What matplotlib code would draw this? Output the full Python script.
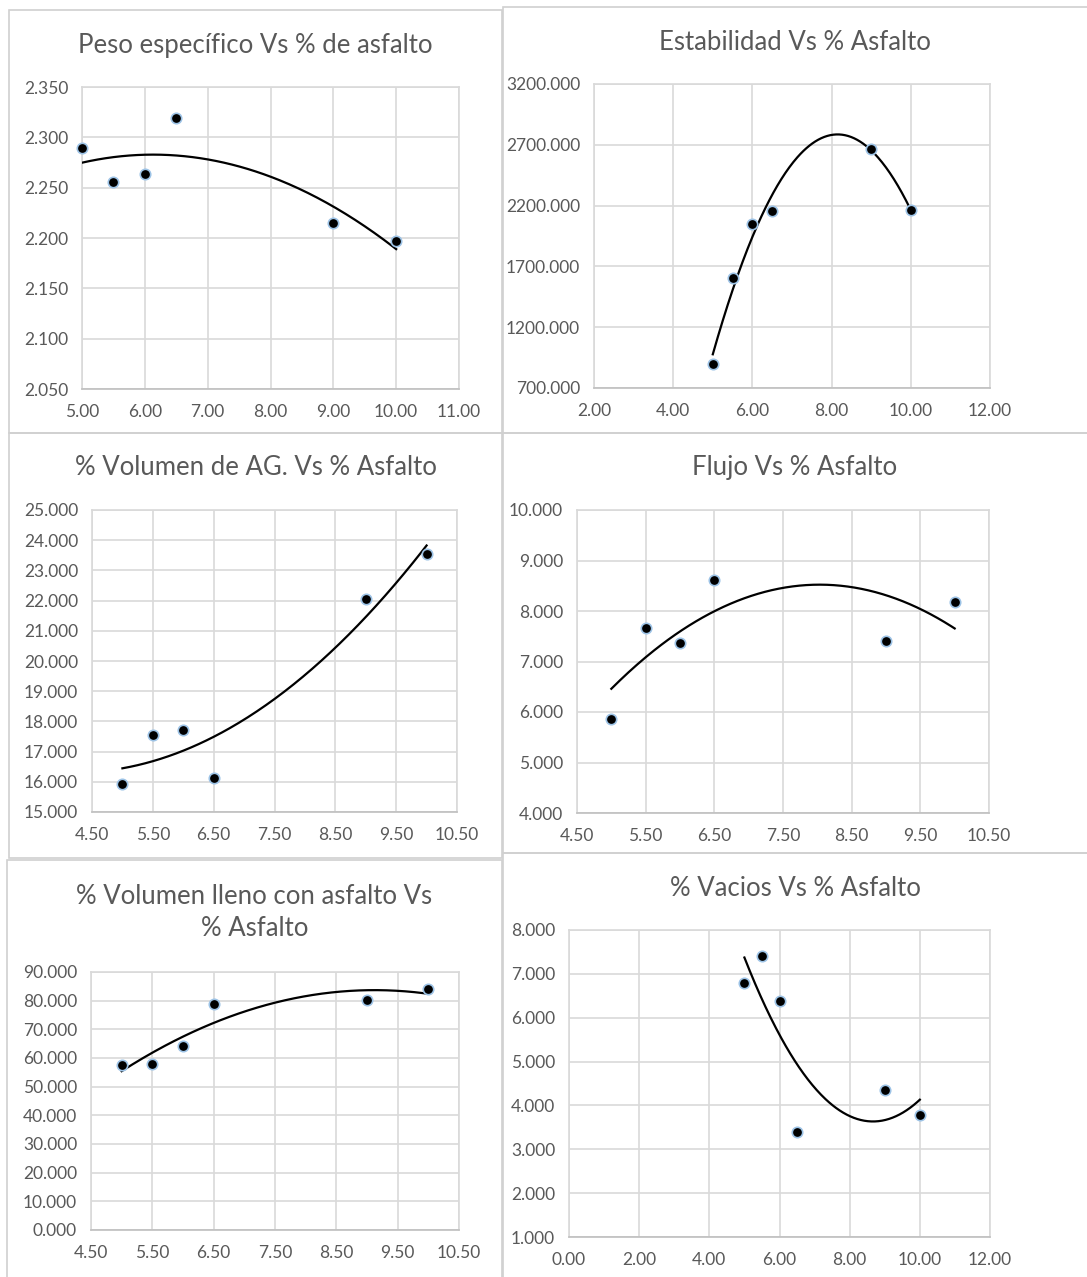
import numpy as np
import matplotlib.pyplot as plt
from matplotlib.patches import Rectangle
from matplotlib.ticker import FormatStrFormatter

plt.rcParams['font.family'] = ['Lato', 'DejaVu Sans']

W, H = 1087, 1277

asfalto = [5.0, 5.5, 6.0, 6.5, 9.0, 10.0]

peso_especifico = [2.289, 2.256, 2.264, 2.319, 2.215, 2.197]
estabilidad = [894, 1605, 2047, 2157, 2667, 2162]
vol_ag = [15.94, 17.55, 17.72, 16.14, 22.05, 23.53]
flujo = [5.87, 7.67, 7.36, 8.61, 7.41, 8.18]
vol_lleno = [57.5, 58.0, 64.1, 79.0, 80.3, 84.1]
vacios = [6.80, 7.41, 6.39, 3.40, 4.35, 3.79]

# title, y series, x limits/step, y limits/step, plot area box (px), frame box (px), title y (px)
charts = [
    ('Peso específico Vs % de asfalto', peso_especifico, (5, 11, 1), (2.05, 2.35, 0.05),
     (82, 87, 459, 389), (9, 10, 502, 433), 45),
    ('Estabilidad Vs % Asfalto', estabilidad, (2, 12, 2), (700, 3200, 500),
     (594, 84, 990, 388), (503, 7, 1092, 433), 42),
    ('% Volumen de AG. Vs % Asfalto', vol_ag, (4.5, 10.5, 1), (15, 25, 1),
     (92, 510, 457, 812), (9, 433, 502, 858), 468),
    ('Flujo Vs % Asfalto', flujo, (4.5, 10.5, 1), (4, 10, 1),
     (577, 510, 989, 813), (503, 433, 1092, 853), 468),
    ('% Volumen lleno con asfalto Vs\n% Asfalto', vol_lleno, (4.5, 10.5, 1), (0, 90, 10),
     (91, 972, 459, 1230), (7, 860, 502, 1290), 912),
    ('% Vacios Vs % Asfalto', vacios, (0, 12, 2), (1, 8, 1),
     (569, 930, 990, 1237), (503, 853, 1092, 1290), 888),
]

grid_c = '#D9D9D9'
text_c = '#595959'

fig = plt.figure(figsize=(W / 100, H / 100), dpi=100)

for title, ys, xl, yl, box, frame, ty in charts:
    # chart border
    fx0, fy0, fx1, fy1 = frame
    fig.add_artist(Rectangle((fx0 / W, 1 - fy1 / H), (fx1 - fx0) / W, (fy1 - fy0) / H,
                             transform=fig.transFigure, fill=False,
                             edgecolor='#D0D0D0', linewidth=1.2))

    x0, y0, x1, y1 = box
    ax = fig.add_axes([x0 / W, 1 - y1 / H, (x1 - x0) / W, (y1 - y0) / H])
    ax.set_xlim(xl[0], xl[1])
    ax.set_ylim(yl[0], yl[1])
    ax.set_xticks(np.arange(xl[0], xl[1] + xl[2] / 2, xl[2]))
    ax.set_yticks(np.arange(yl[0], yl[1] + yl[2] / 2, yl[2]))
    ax.xaxis.set_major_formatter(FormatStrFormatter('%.2f'))
    ax.yaxis.set_major_formatter(FormatStrFormatter('%.3f'))
    ax.grid(True, color=grid_c, linewidth=1.2)
    ax.set_axisbelow(True)
    for s in ax.spines.values():
        s.set_color(grid_c)
        s.set_linewidth(1.2)
    ax.spines['bottom'].set_color('#BFBFBF')
    ax.tick_params(length=0, labelsize=12.5, colors=text_c)
    ax.tick_params(axis='x', pad=11)
    ax.tick_params(axis='y', pad=10)

    # polynomial trend line (order 2)
    coef = np.polyfit(asfalto, ys, 2)
    xs = np.linspace(min(asfalto), max(asfalto), 200)
    ax.plot(xs, np.polyval(coef, xs), color='black', linewidth=1.6, zorder=3)

    ax.plot(asfalto, ys, 'o', color='black', markersize=7.5,
            markeredgecolor='#9DC3E6', markeredgewidth=1.2, zorder=4, clip_on=False)

    fig.text(((fx0 + min(fx1, W)) / 2) / W, 1 - ty / H, title, ha='center', va='center',
             fontsize=18.5, color=text_c, linespacing=1.35)

fig.savefig('out.png', dpi=100, facecolor='white')
